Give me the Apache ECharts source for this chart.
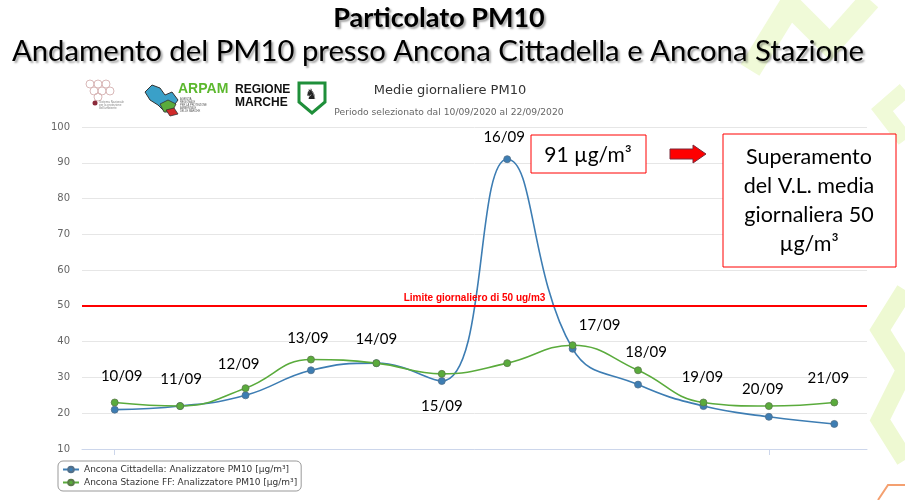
<!DOCTYPE html>
<html>
<head>
<meta charset="utf-8">
<script src="https://cdn.jsdelivr.net/npm/echarts@6/dist/echarts.min.js"></script>
<style>html,body{margin:0;padding:0;background:#fff;}#c{width:905px;height:500px;}</style>
</head>
<body>
<div id="c"></div>
<script>
const categories = ["10/09","11/09","12/09","13/09","14/09","15/09","16/09","17/09","18/09","19/09","20/09","21/09"];
const cittadella = [21, 22, 25, 32, 34, 29, 91, 38, 28, 22, 19, 17];
const stazione = [23, 22, 27, 35, 34, 31, 34, 39, 32, 23, 22, 23];
const limitValue = 50;
const yTicks = {min: 10, max: 100, interval: 10};
const seriesNames = ["Ancona Cittadella: Analizzatore PM10 [µg/m³]", "Ancona Stazione FF: Analizzatore PM10 [µg/m³]"];

// which series carries the date annotation, and its offset (layout only)
const labelOwner = ['s','s','s','s','s','c','c','s','s','s','s','s'];
const labelOffsets = [[7,-26],[1,-27],[-7,-24],[-3,-21],[0,-24],[0,25],[-3,-22],[27,-20],[8,-18],[-1,-25],[-6,-17],[-6,-24]];

function buildData(values, key) {
  return values.map((v, i) => {
    const item = {value: v};
    if (labelOwner[i] === key) {
      item.label = {show: true, offset: labelOffsets[i], position: 'inside',
        formatter: p => p.name, color: '#000', fontSize: 15, fontFamily: 'Lato'};
    }
    return item;
  });
}

const chart = echarts.init(document.getElementById('c'), null, {renderer: 'canvas'});
const blue = '#3d7db3', green = '#5aab3c';
chart.setOption({
  animation: false,
  backgroundColor: '#fff',
  grid: {left: 82, right: 38, top: 127, bottom: 51},
  xAxis: {
    type: 'category', data: categories, boundaryGap: true,
    axisLine: {lineStyle: {color: '#ccd6eb'}},
    axisTick: {show: true, interval: 9, alignWithLabel: true, length: 6, lineStyle: {color: '#ccd6eb'}},
    axisLabel: {show: false}
  },
  yAxis: {
    type: 'value', min: yTicks.min, max: yTicks.max, interval: yTicks.interval,
    axisLine: {show: false}, axisTick: {show: false},
    axisLabel: {color: '#666', fontSize: 10, fontFamily: 'DejaVu Sans', margin: 12},
    splitLine: {lineStyle: {color: '#e6e6e6'}}
  },
  legend: {
    orient: 'vertical', left: 58, top: 461, itemGap: 4, itemWidth: 16, itemHeight: 7,
    padding: [4, 4, 4, 4], borderColor: '#999', borderWidth: 1, borderRadius: 5,
    textStyle: {color: '#333', fontSize: 9, fontFamily: 'DejaVu Sans'},
    data: seriesNames
  },
  series: [
    {
      name: seriesNames[0], type: 'line', smooth: 0.45, data: buildData(cittadella, 'c'),
      symbol: 'circle', symbolSize: 7, color: blue,
      lineStyle: {width: 1.6, color: blue},
      itemStyle: {color: blue, borderColor: '#52708a', borderWidth: 0.8},
      z: 3,
      markLine: {
        silent: true, symbol: 'none', animation: false,
        data: [{yAxis: limitValue}],
        lineStyle: {color: '#ff0000', width: 2, type: 'solid'},
        label: {show: true, position: 'middle', formatter: 'Limite giornaliero di 50 ug/m3',
          color: '#ff0000', fontSize: 10, fontWeight: 'bold', fontFamily: 'Liberation Sans', distance: 3}
      }
    },
    {
      name: seriesNames[1], type: 'line', smooth: 0.45, data: buildData(stazione, 's'),
      symbol: 'circle', symbolSize: 7, color: green,
      lineStyle: {width: 1.6, color: green},
      itemStyle: {color: green, borderColor: '#5a7a4a', borderWidth: 0.8},
      z: 4
    }
  ],
  graphic: [
    // background decorations
    {type: 'polyline', z: -10, shape: {points: [[750,70],[790,5],[830,45],[870,0]]}, style: {stroke: '#f0fad8', lineWidth: 22, fill: null}},
    {type: 'polyline', z: -10, shape: {points: [[905,290],[880,330],[905,370],[880,420],[905,460]]}, style: {stroke: '#eef9d2', lineWidth: 18, fill: null}},
    {type: 'polyline', z: -10, shape: {points: [[905,90],[882,110],[905,140]]}, style: {stroke: '#f0fad8', lineWidth: 16, fill: null}},
    {type: 'polyline', z: -10, shape: {points: [[878,500],[888,485],[905,485]]}, style: {stroke: '#f4a070', lineWidth: 2, fill: null}},
    // titles
    {type: 'text', x: 439, y: 18, style: {text: 'Particolato PM10', font: 'bold 27px Lato', fill: '#000', textAlign: 'center', textVerticalAlign: 'middle',
      textShadowColor: 'rgba(0,0,0,0.35)', textShadowBlur: 2, textShadowOffsetX: 2, textShadowOffsetY: 2}},
    {type: 'text', x: 12, y: 52, style: {text: 'Andamento del PM10 presso Ancona Cittadella e Ancona Stazione', font: '29.3px Lato', fill: '#000', textVerticalAlign: 'middle',
      textShadowColor: 'rgba(0,0,0,0.35)', textShadowBlur: 2, textShadowOffsetX: 2, textShadowOffsetY: 2}},
    // highcharts title/subtitle
    {type: 'text', x: 450, y: 91, style: {text: 'Medie giornaliere PM10', font: '13px "DejaVu Sans"', fill: '#333', textAlign: 'center', textVerticalAlign: 'middle'}},
    {type: 'text', x: 449, y: 113, style: {text: 'Periodo selezionato dal 10/09/2020 al 22/09/2020', font: '9.2px "DejaVu Sans"', fill: '#666', textAlign: 'center', textVerticalAlign: 'middle'}},
    // logos (approximate)
    {type: 'group', children: [
      {type: 'circle', shape: {cx: 90, cy: 84, r: 4}, style: {fill: 'none', stroke: '#d9b8b8', lineWidth: 1}},
      {type: 'circle', shape: {cx: 98, cy: 84, r: 4}, style: {fill: 'none', stroke: '#d9b8b8', lineWidth: 1}},
      {type: 'circle', shape: {cx: 94, cy: 91, r: 4}, style: {fill: 'none', stroke: '#d9b8b8', lineWidth: 1}},
      {type: 'circle', shape: {cx: 102, cy: 91, r: 4}, style: {fill: 'none', stroke: '#d9b8b8', lineWidth: 1}},
      {type: 'circle', shape: {cx: 110, cy: 91, r: 4}, style: {fill: 'none', stroke: '#d9b8b8', lineWidth: 1}},
      {type: 'circle', shape: {cx: 106, cy: 84, r: 4}, style: {fill: 'none', stroke: '#d9b8b8', lineWidth: 1}},
      {type: 'circle', shape: {cx: 98, cy: 97, r: 4}, style: {fill: 'none', stroke: '#d9b8b8', lineWidth: 1}},
      {type: 'circle', shape: {cx: 95, cy: 103, r: 2.5}, style: {fill: '#8b2a3a'}},
      {type: 'text', x: 99, y: 101, style: {text: 'Sistema Nazionale\nper la protezione\ndell\'ambiente', font: '3px sans-serif', fill: '#888'}},
      {type: 'polygon', shape: {points: [[145,92],[152,85],[160,88],[165,95],[172,92],[178,100],[172,108],[165,112],[158,105],[150,100]]}, style: {fill: '#3aa0c8', stroke: '#333', lineWidth: 1}},
      {type: 'polygon', shape: {points: [[160,104],[168,100],[176,104],[172,112],[164,112]]}, style: {fill: '#5aab3c', stroke: '#333', lineWidth: 0.8}},
      {type: 'polygon', shape: {points: [[166,110],[174,108],[178,114],[170,116]]}, style: {fill: '#d12a2a', stroke: '#333', lineWidth: 0.8}},
      {type: 'text', x: 178, y: 82, style: {text: 'ARPAM', font: 'bold 14px "Liberation Sans Narrow", "Liberation Sans"', fill: '#5cb82e'}},
      {type: 'text', x: 180, y: 98, style: {text: 'AGENZIA\nREGIONALE\nPER LA PROTEZIONE\nAMBIENTALE\nDELLE MARCHE', font: '2.6px sans-serif', fill: '#555', lineHeight: 3}},
      {type: 'text', x: 235, y: 83, style: {text: 'REGIONE\nMARCHE', font: 'bold 12px "Liberation Sans"', fill: '#111', lineHeight: 13}},
      {type: 'polygon', shape: {points: [[299,83],[325,83],[325,102],[312,113],[299,102]]}, style: {fill: '#fff', stroke: '#1f8f3a', lineWidth: 3}},
      {type: 'text', x: 305, y: 88, style: {text: '♞', font: '14px "DejaVu Sans"', fill: '#222'}}
    ]},
    // annotation boxes
    {type: 'rect', shape: {x: 531, y: 135, width: 115, height: 38}, style: {fill: '#fff', stroke: '#ff0000', lineWidth: 1}, z: 100},
    {type: 'text', x: 588, y: 155, z: 101, style: {text: '91 µg/m³', font: '21px Lato', fill: '#000', textAlign: 'center', textVerticalAlign: 'middle'}},
    {type: 'polygon', z: 100, shape: {points: [[670,149],[693,149],[693,145],[706,154],[693,163],[693,159],[670,159]]}, style: {fill: '#ff0000', stroke: '#7a2a3a', lineWidth: 1}},
    {type: 'rect', z: 100, shape: {x: 723, y: 134, width: 173, height: 133}, style: {fill: '#fff', stroke: '#ff0000', lineWidth: 1}},
    {type: 'text', x: 809, y: 201, z: 101, style: {text: 'Superamento\ndel V.L. media\ngiornaliera 50\nµg/m³', font: '21.5px Lato', fill: '#000', textAlign: 'center', textVerticalAlign: 'middle', lineHeight: 29}}
  ]
});
</script>
</body>
</html>
